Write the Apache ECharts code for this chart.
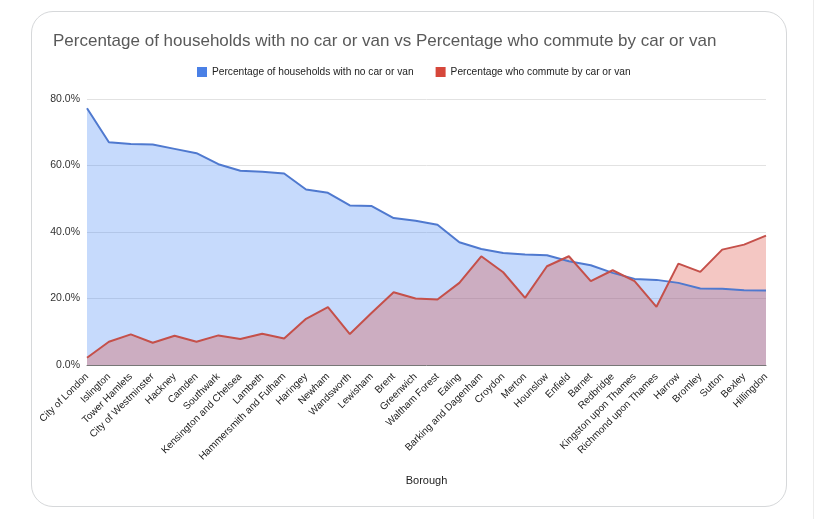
<!DOCTYPE html>
<html>
<head>
<meta charset="utf-8">
<script src="https://cdn.jsdelivr.net/npm/echarts@6/dist/echarts.min.js"></script>
<style>
  html, body { margin: 0; padding: 0; background: #ffffff; }
  #wrap { position: relative; width: 833px; height: 519px; overflow: hidden; }
  #card { position: absolute; left: 31px; top: 11px; width: 756px; height: 496px;
          border: 1px solid #d6d8da; border-radius: 22px; box-sizing: border-box; background: #fff; }
  #edge { position: absolute; left: 813px; top: 0; width: 1px; height: 519px; background: #ececec; }
  #chart { position: absolute; left: 0; top: 0; width: 833px; height: 519px; }
</style>
</head>
<body>
<div id="wrap">
  <div id="card"></div>
  <div id="edge"></div>
  <div id="chart"></div>
</div>
<script>
const boroughs = ["City of London", "Islington", "Tower Hamlets", "City of Westminster", "Hackney", "Camden",
  "Southwark", "Kensington and Chelsea", "Lambeth", "Hammersmith and Fulham", "Haringey", "Newham",
  "Wandsworth", "Lewisham", "Brent", "Greenwich", "Waltham Forest", "Ealing", "Barking and Dagenham",
  "Croydon", "Merton", "Hounslow", "Enfield", "Barnet", "Redbridge", "Kingston upon Thames",
  "Richmond upon Thames", "Harrow", "Bromley", "Sutton", "Bexley", "Hillingdon"];

const noCarPct = [77.2, 67.0, 66.5, 66.3, 65.0, 63.7, 60.4, 58.4, 58.1, 57.6, 52.8, 51.8,
  48.0, 47.8, 44.2, 43.4, 42.2, 36.9, 34.9, 33.7, 33.2, 33.0, 31.2, 30.0, 27.7, 25.9,
  25.6, 24.7, 23.0, 22.9, 22.5, 22.4];

const commuteCarPct = [2.2, 7.0, 9.2, 6.7, 8.8, 7.0, 8.9, 7.8, 9.4, 8.0, 13.9, 17.4,
  9.3, 15.7, 21.9, 20.0, 19.7, 24.7, 32.7, 27.9, 20.2, 29.7, 32.7, 25.2, 28.5, 25.2,
  17.5, 30.5, 28.0, 34.7, 36.2, 38.9];

const seriesNames = ["Percentage of households with no car or van", "Percentage who commute by car or van"];
const yTicks = { min: 0, max: 80, interval: 20 };

const chart = echarts.init(document.getElementById('chart'), null, { renderer: 'canvas' });
const font = 'Arial, "Liberation Sans", Helvetica, sans-serif';

chart.setOption({
  backgroundColor: 'transparent',
  animation: false,
  title: {
    text: 'Percentage of households with no car or van vs Percentage who commute by car or van',
    left: 48, top: 28,
    textStyle: { fontFamily: font, fontSize: 17, fontWeight: 'normal', color: '#595959' }
  },
  legend: {
    top: 62, left: 192,
    itemWidth: 10, itemHeight: 10, itemGap: 22,
    icon: 'rect',
    textStyle: { fontFamily: font, fontSize: 10.2, color: '#222' },
    data: [
      { name: seriesNames[0], itemStyle: { color: '#4a80e6' } },
      { name: seriesNames[1], itemStyle: { color: '#d6473b' } }
    ]
  },
  grid: { left: 87, right: 67, top: 99, bottom: 154, containLabel: false },
  xAxis: {
    type: 'category',
    data: boroughs,
    boundaryGap: false,
    name: 'Borough',
    nameLocation: 'middle',
    nameGap: 110,
    nameTextStyle: { fontFamily: font, fontSize: 11, color: '#222' },
    axisLine: { lineStyle: { color: '#777', width: 1 } },
    axisTick: { show: false },
    axisLabel: { rotate: 45, interval: 0, fontFamily: font, fontSize: 10, color: '#222', margin: 10 }
  },
  yAxis: {
    type: 'value',
    min: yTicks.min, max: yTicks.max, interval: yTicks.interval,
    axisLine: { show: false },
    axisTick: { show: false },
    splitLine: { lineStyle: { color: '#e2e2e2', width: 1 } },
    axisLabel: { fontFamily: font, fontSize: 10.5, color: '#333', margin: 7,
      formatter: v => v.toFixed(1) + '%' }
  },
  series: [
    {
      name: seriesNames[0], type: 'line', data: noCarPct,
      symbol: 'none', lineStyle: { color: '#4f79cf', width: 2 },
      itemStyle: { color: '#4a80e6' },
      areaStyle: { color: '#4285f4', opacity: 0.3 }
    },
    {
      name: seriesNames[1], type: 'line', data: commuteCarPct,
      symbol: 'none', lineStyle: { color: '#c5504a', width: 2 },
      itemStyle: { color: '#d6473b' },
      areaStyle: { color: '#db4437', opacity: 0.3 }
    }
  ]
});
</script>
</body>
</html>
